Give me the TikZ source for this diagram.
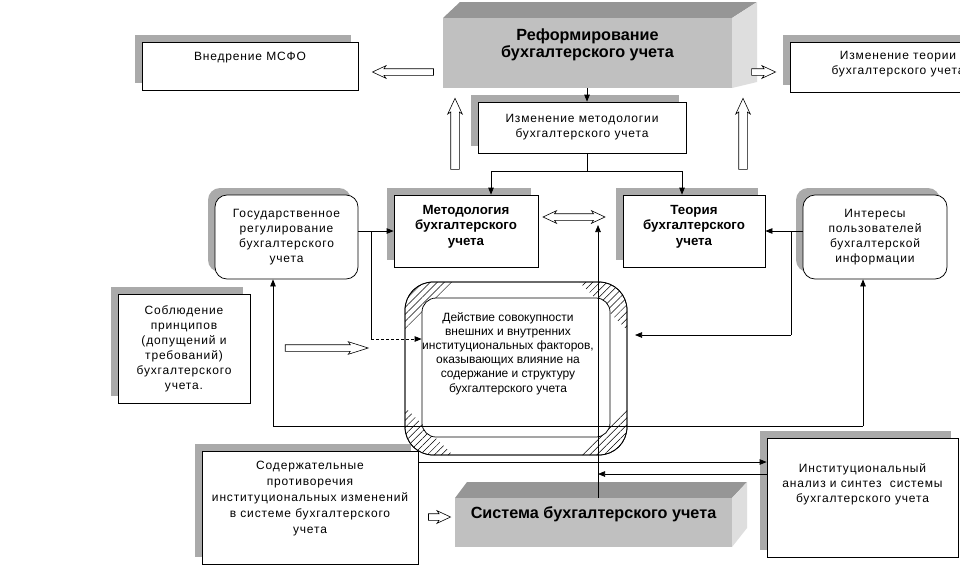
\documentclass[tikz,border=0pt]{standalone}
\usepackage{fontspec}
\setmainfont{Liberation Sans}
\newfontfamily\spfont[LetterSpace=7]{Liberation Sans}
\usetikzlibrary{arrows.meta,shapes.arrows,shadows,patterns.meta}
\definecolor{shgray}{RGB}{170,170,170}
\definecolor{frontg}{RGB}{192,192,192}
\definecolor{topg}{RGB}{150,150,150}
\definecolor{sideg}{RGB}{222,222,222}
\tikzset{
  ln/.style={line width=0.75pt},
  conn/.style={ln,-{Triangle[length=7pt,width=5.5pt]}},
  txt/.style={font=\spfont\fontsize{12}{15}\selectfont, align=center},
  btxt/.style={font=\bfseries\fontsize{13.3}{15.5}\selectfont, align=center},
  bigtxt/.style={font=\bfseries\fontsize{16.2}{17}\selectfont, align=center},
  box/.style={draw, ln, fill=white, inner sep=0pt, txt,
    drop shadow={shadow xshift=-7pt, shadow yshift=7pt, fill=shgray, opacity=1}},
  rbox/.style={box, rounded corners=12pt},
  blk/.style={single arrow, draw, fill=white, line width=0.6pt, inner sep=3pt,
    single arrow head extend=3pt, single arrow tip angle=50, single arrow head indent=2pt},
  dblk/.style={double arrow, draw, fill=white, line width=0.6pt, inner sep=3pt,
    double arrow head extend=3pt, double arrow tip angle=50, double arrow head indent=2pt},
}
\begin{document}
\begin{tikzpicture}[x=1pt,y=-1pt]
\path[use as bounding box, clip] (0,0) rectangle (960,571);
\fill[white] (0,0) rectangle (960,571);

% ---- Reform 3D box
\fill[topg] (443,18) -- (460,2) -- (757,2) -- (732,18) -- cycle;
\fill[sideg] (732,18) -- (757,2) -- (757,82) -- (732,88) -- cycle;
\node[fill=frontg, minimum width=289pt, minimum height=70pt, inner sep=0pt,
  label={[anchor=north, yshift=-7pt, bigtxt]north:Реформирование\\бухгалтерского учета}]
  (reform) at (587.5,53) {};

% ---- System 3D box
\fill[topg] (455,498) -- (467,482) -- (747,482) -- (732,498) -- cycle;
\fill[sideg] (732,498) -- (747,482) -- (747,528) -- (732,547) -- cycle;
\node[fill=frontg, minimum width=277pt, minimum height=49pt, inner sep=0pt,
  label={[anchor=north, yshift=-5pt, bigtxt]north:Система бухгалтерского учета}]
  (sys) at (593.5,522.5) {};

% ---- plain boxes
\node[box, minimum width=216pt, minimum height=48pt,
  label={[anchor=north, yshift=-7pt, txt]north:Внедрение МСФО}] (msfo) at (250,66) {};
\node[box, minimum width=216pt, minimum height=50pt,
  label={[anchor=north, yshift=-6pt, txt]north:Изменение теории\\бухгалтерского учета}] (izmteor) at (898,67) {};
\node[box, minimum width=208pt, minimum height=51pt] (izmmet) at (582,127.5)
  {Изменение методологии\\бухгалтерского учета};
\node[box, minimum width=144pt, minimum height=72pt,
  label={[anchor=north, yshift=-7pt, btxt]north:Методология\\бухгалтерского\\учета}] (metod) at (466,231) {};
\node[box, minimum width=142pt, minimum height=72pt,
  label={[anchor=north, yshift=-7pt, btxt]north:Теория\\бухгалтерского\\учета}] (teor) at (694,231) {};
\node[rbox, minimum width=143pt, minimum height=84pt] (gos) at (286.5,237)
  {Государственное\\регулирование\\бухгалтерского\\учета};
\node[rbox, minimum width=144pt, minimum height=84pt] (inter) at (875,237)
  {Интересы\\пользователей\\бухгалтерской\\информации};
\node[box, minimum width=132pt, minimum height=109pt] (sobl) at (184,348.5)
  {Соблюдение\\принципов\\(допущений и\\требований)\\бухгалтерского\\учета.};
\node[box, minimum width=216pt, minimum height=113pt,
  label={[anchor=north, yshift=-7pt, txt, font=\spfont\fontsize{12}{16}\selectfont]north:Содержательные\\противоречия\\институциональных изменений\\в системе бухгалтерского\\учета}] (sod) at (310,507.5) {};
\node[box, minimum width=191pt, minimum height=119pt,
  label={[anchor=north, yshift=-22pt, txt]north:Институциональный\\анализ и синтез\ \ системы\\бухгалтерского учета}] (inst) at (862.5,497.5) {};

% ---- central bevel shape
\node[draw, ln, fill=white, rounded corners=28pt, minimum width=222pt, minimum height=173pt, inner sep=0pt] (cout) at (516,368.5) {};
\begin{scope}
\clip (405,282) -- ++(48,0) -- ++(-48,48) -- cycle
      (627,282) -- ++(-48,0) -- ++(48,48) -- cycle
      (405,455) -- ++(48,0) -- ++(-48,-48) -- cycle
      (627,455) -- ++(-48,0) -- ++(48,-48) -- cycle;
\fill[pattern={Lines[angle=45,distance=5pt,line width=0.5pt]}, even odd rule]
  [rounded corners=28pt] (405,282) rectangle (627,455)
  [rounded corners=14pt] (422,298) rectangle (610,437);
\end{scope}
\draw[ln, rounded corners=28pt] (405,282) rectangle (627,455);
\node[draw, ln, rounded corners=14pt, minimum width=188pt, minimum height=139pt, inner sep=0pt,
  label={[anchor=north, yshift=-11pt, xshift=-8pt, font=\fontsize{12}{14.2}\selectfont, align=center]north:Действие совокупности\\внешних и внутренних\\институциональных факторов,\\оказывающих влияние на\\содержание и структуру\\бухгалтерского учета}]
  (cin) at (516,367.5) {};

% ---- block arrows
\node[blk, shape border rotate=180, minimum height=61pt] (a1) at (406.5,72) {};
\node[blk, minimum height=24pt] (a2) at (760,72) {};
\node[blk, shape border rotate=90, minimum height=71pt, inner sep=4pt, single arrow head extend=3pt] (a3) at (455,138.5) {};
\node[blk, shape border rotate=90, minimum height=71pt, inner sep=4pt, single arrow head extend=3pt] (a4) at (743,138.5) {};
\node[dblk, minimum height=62pt] (dbl) at (574,217) {};
\node[blk, minimum height=83pt, single arrow tip angle=35] (a5) at (321.5,348) {};
\node[blk, minimum height=22pt] (a6) at (436,517) {};

% ---- connectors
\coordinate (mx) at (587,0);
\draw[conn] (reform.south -| mx) -- (izmmet.north -| mx);
\coordinate (sp) at (587,171);
\draw[ln] (izmmet.south -| mx) -- (sp);
\coordinate (mL) at (491,0);
\coordinate (tL) at (682,0);
\draw[conn] (sp) -| (metod.north -| mL);
\draw[conn] (sp) -| (teor.north -| tL);

\draw[conn] (gos.east |- metod.west) -- (metod.west);
\coordinate (gj) at (371,231);
\coordinate (dj) at (371,339);
\draw[ln] (gj) -- (dj);
\draw[conn, dashed, dash pattern=on 3pt off 2pt] (dj) -- (cin.west |- dj);

\draw[conn] (inter.west |- teor.east) -- (teor.east);
\coordinate (ij) at (791,231);
\coordinate (ik) at (791,335);
\coordinate (ie) at (635,335);
\draw[ln] (ij) -- (ik);
\draw[conn] (ik) -- (ie);

\coordinate (u1) at (273,426);
\coordinate (u2) at (863,426);
\draw[conn] (u2) -- (u1) -- (u1 |- gos.south);
\draw[conn] (u2) -- (u2 |- inter.south);

\coordinate (sv) at (598,225);
\draw[conn] (sys.north -| sv) -- (sv);

\coordinate (h1) at (0,462);
\coordinate (h2) at (0,474);
\draw[conn] (sod.east |- h1) -- (inst.west |- h1);
\draw[conn] (inst.west |- h2) -- (sv |- h2);
\end{tikzpicture}
\end{document}
